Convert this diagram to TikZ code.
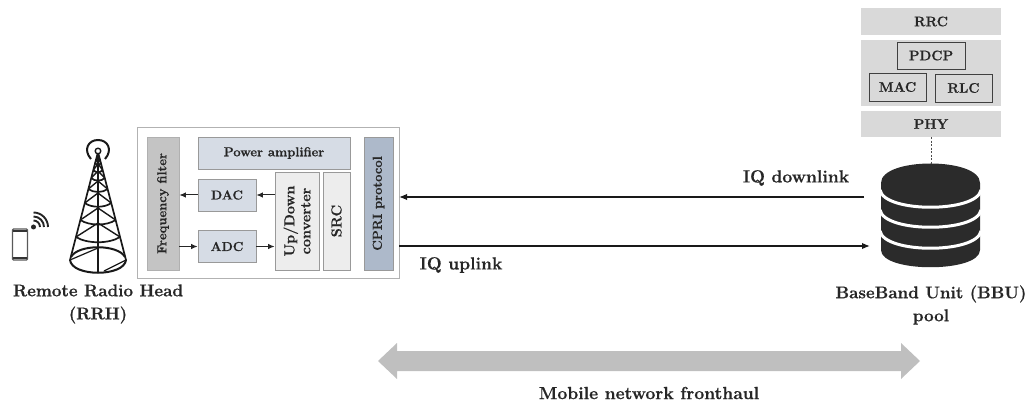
\documentclass[tikz,border=0pt]{standalone}
\usepackage{xcolor}
\usepackage{fontspec}
\setmainfont{Latin Modern Roman}[BoldFeatures={FakeBold=0.7}]
\usetikzlibrary{calc,arrows.meta}
\definecolor{stackgray}{HTML}{D9D9D9}
\definecolor{filtergray}{HTML}{C4C4C4}
\definecolor{paleblue}{HTML}{D6DCE5}
\definecolor{cpriblue}{HTML}{ADB9CA}
\definecolor{palegray}{HTML}{EDEDED}
\definecolor{fronthaulgray}{HTML}{BFBFBF}
\definecolor{dbblack}{HTML}{2B2B2B}
\tikzset{
 	caption/.style={font=\fontsize{17}{23}\selectfont\bfseries,align=center,text=black!85},
 	linklabel/.style={font=\fontsize{17.5}{20}\selectfont\bfseries,text=black!85},
 	block/.style={draw=black!40,line width=0.8pt,inner sep=0pt,font=\fontsize{13}{15}\selectfont\bfseries,text=black!85},
 	layer/.style={fill=stackgray,inner sep=0pt,font=\fontsize{13.8}{15}\selectfont\bfseries,text=black!85},
 	sublayer/.style={draw=black!75,line width=0.8pt,fill=stackgray,inner sep=0pt,font=\fontsize{13.8}{15}\selectfont\bfseries,text=black!85},
 	sig/.style={-{Latex[length=6.5pt,width=5.5pt]},line width=1pt,black!85},
 	link/.style={-{Latex[length=8pt,width=6.5pt]},line width=1.5pt,black!90},
 	mast/.style={line width=1.7pt,black!90}
}
\begin{document}
\begin{tikzpicture}[x=1pt,y=-1pt]
 	\useasboundingbox (0,0) rectangle (1025,403);

 	\draw[rounded corners=1pt,line width=1.2pt,black!65] (12.5,229) rectangle (27.5,260);
 	\draw[line width=2.4pt,black!80] (13,231) -- (27,231) (13,258) -- (27,258);
 	\fill[black!85] (33.5,227) circle (2.5);
 	\foreach \r in {6.5,10.5,14.5}
 	\draw[line width=1.9pt,black!85] ($(33.5,227)+(\r,0)$) .. controls ($(33.5,227)+(\r,-0.55*\r)$) and ($(33.5,227)+(0.55*\r,-\r)$) .. ($(33.5,227)+(0,-\r)$);

 	\draw[mast] (98,152) -- (70,260) (98,152) -- (126,260) (98,152) -- (98,273);
 	\draw[mast,line width=2pt] (70,260) .. controls (72,277) and (124,277) .. (126,260);
 	\draw[mast,line width=2pt] (71,257) .. controls (78,244) and (118,244) .. (125,257);
 	\draw[mast,line width=1.2pt] (70,260) -- (98,248) (104,271) -- (126,260);
 	\foreach \y/\d in {237/7,220/6,203/5,189/4,178/3.5,170/3,163/2.5}{
 		\pgfmathsetmacro{\w}{28*(\y-152)/108}
 		\draw[mast] ($(98,\y)+(-\w,0)$) .. controls ($(98,\y)+(-\w/2,\d)$) and ($(98,\y)+(\w/2,\d)$) .. ($(98,\y)+(\w,0)$);
 		\draw[mast,line width=1.4pt] ($(98,\y)+(-\w,0)$) -- ($(98,\y)+(0,-2*\d)$) -- ($(98,\y)+(\w,0)$);
 	}
 	\draw[line width=1.4pt,black!90,fill=white] (98,151) circle (2.8);
 	\draw[line width=2pt,black!90] (91,159) .. controls (83,150) and (88,140) .. (98,140) .. controls (108,140) and (113,150) .. (105,159);
 	\node[caption] (rrhlabel) at (98,304) {Remote Radio Head\\(RRH)};

 	\draw[line width=0.9pt,black!30] (137.5,127) rectangle (399,278);
 	\coordinate (rrhedge) at (399,200);
 	\node[block,fill=filtergray,draw=filtergray!90!black,rotate=90,minimum width=133pt,minimum height=32pt] (filter) at (163,203.5) {Frequency filter};
 	\node[block,fill=paleblue,minimum width=152pt,minimum height=32pt] (amp) at (274,153) {Power amplifier};
 	\node[block,fill=paleblue,minimum width=58pt,minimum height=32pt] (dac) at (227,195) {DAC};
 	\node[block,fill=paleblue,minimum width=58pt,minimum height=32pt] (adc) at (227,246.5) {ADC};
 	\node[block,fill=palegray,rotate=90,align=center,font=\fontsize{14.5}{16}\selectfont\bfseries,minimum width=98pt,minimum height=44pt] (updown) at (297,221) {Up/Down\\converter};
 	\node[block,fill=palegray,rotate=90,font=\fontsize{14.5}{16}\selectfont\bfseries,minimum width=98pt,minimum height=27pt] (src) at (336.5,221) {SRC};
 	\node[block,fill=cpriblue,rotate=90,minimum width=133pt,minimum height=29pt] (cpri) at (378.5,203.5) {CPRI protocol};
 	\draw[sig] (dac.west) -- (dac.west -| filter.south);
 	\draw[sig] (updown.north |- dac.east) -- (dac.east);
 	\draw[sig] (filter.south |- adc.west) -- (adc.west);
 	\draw[sig] (adc.east) -- (adc.east -| updown.north);

 	\node[layer,minimum width=140pt,minimum height=27pt] (rrc) at (931,21.5) {RRC};
 	\node[fill=stackgray,inner sep=0pt,minimum width=140pt,minimum height=66pt] (l2) at (931,73) {};
 	\node[sublayer,minimum width=68pt,minimum height=27pt] (pdcp) at (931,55.5) {PDCP};
 	\node[sublayer,minimum width=57pt,minimum height=28pt] (mac) at (897.5,87) {MAC};
 	\node[sublayer,minimum width=57pt,minimum height=28pt] (rlc) at (963.5,88) {RLC};
 	\node[layer,minimum width=140pt,minimum height=26pt] (phy) at (931,124) {PHY};

 	\fill[dbblack] (881,183) .. controls (881,157) and (980,157) .. (980,183) -- (980,250) .. controls (980,273) and (881,273) .. (881,250) -- cycle;
 	\foreach \y in {190,210,231}
 	\draw[white,line width=3pt] (880,\y) .. controls (884,\y+23) and (977,\y+23) .. (981,\y);
 	\coordinate (dbtop) at (931,164);
 	\coordinate (dbdown) at (864,197);
 	\coordinate (dbup) at (870,246);
 	\draw[line width=0.8pt,black!70,dash pattern=on 2pt off 1.5pt] (phy.south) -- (dbtop);
 	\draw[link] (dbdown) -- (dbdown -| rrhedge);
 	\draw[link] (rrhedge |- dbup) -- (dbup);
 	\node[linklabel] (downlabel) at (796,178) {IQ downlink};
 	\node[linklabel] (uplabel) at (461,265) {IQ uplink};
 	\node[caption] (bbulabel) at (931,305) {BaseBand Unit (BBU)\\pool};

 	\fill[fronthaulgray] (378,361) -- (397,343) -- (397,351) -- (901,351) -- (901,343) -- (920,361) -- (901,379) -- (901,371) -- (397,371) -- (397,379) -- cycle;
 	\node[linklabel] (fronthaul) at (649,393) {Mobile network fronthaul};
\end{tikzpicture}
\end{document}
